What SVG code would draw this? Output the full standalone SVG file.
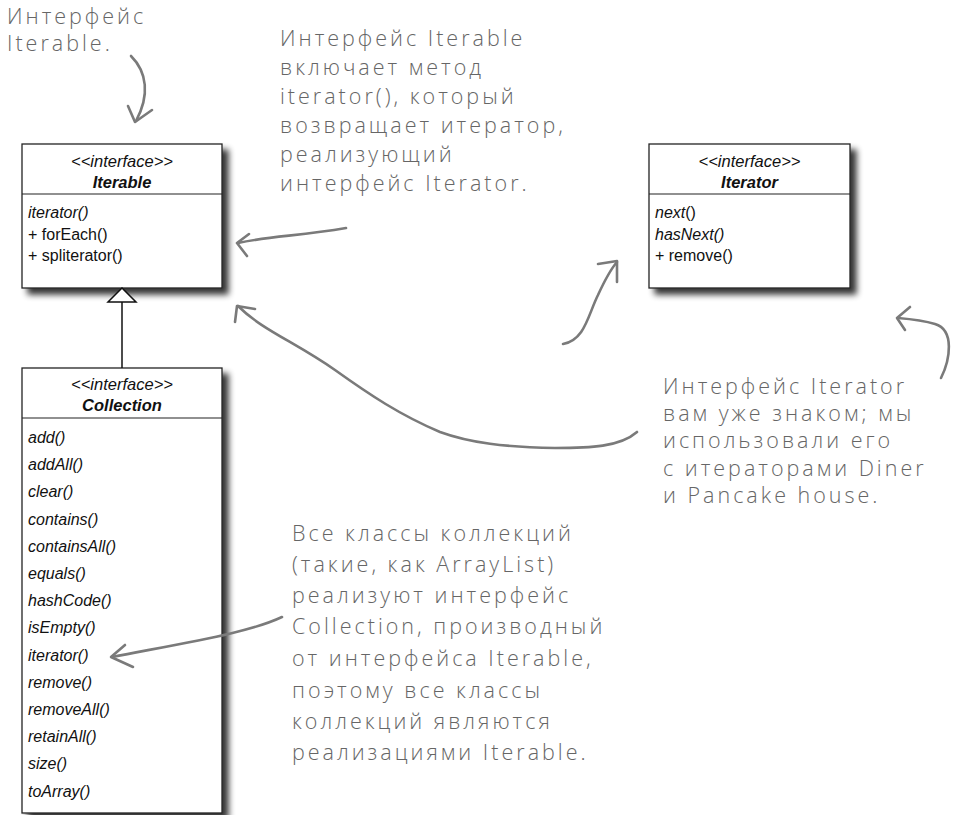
<svg xmlns="http://www.w3.org/2000/svg" width="955" height="815" viewBox="0 0 955 815">
<defs>
<filter id="sh" x="-10%" y="-10%" width="130%" height="130%">
<feGaussianBlur in="SourceAlpha" stdDeviation="3"/>
<feOffset dx="6" dy="6"/>
<feComponentTransfer><feFuncA type="linear" slope="0.8"/></feComponentTransfer>
<feMerge><feMergeNode/><feMergeNode in="SourceGraphic"/></feMerge>
</filter>
<style>
.box{fill:#fff;stroke:#222;stroke-width:1.3}
.div{stroke:#222;stroke-width:1.2}
.st{font-family:"Liberation Sans",Arial,sans-serif;font-size:16.5px;font-style:italic;fill:#111;text-anchor:middle}
.nm{font-family:"Liberation Sans",Arial,sans-serif;font-size:16.5px;font-style:italic;font-weight:bold;fill:#111;text-anchor:middle}
.m{font-family:"Liberation Sans",Arial,sans-serif;font-size:16px;fill:#111}
.mi{font-family:"Liberation Sans",Arial,sans-serif;font-size:16px;font-style:italic;fill:#111}
.up{font-style:normal}
.hw{font-family:"Open Sans","Noto Sans",sans-serif;font-size:21.5px;font-weight:300;fill:#666;letter-spacing:3px}
.ar{fill:none;stroke:#7a7a7a;stroke-width:2.6;stroke-linecap:round;stroke-linejoin:round}
.gen{fill:none;stroke:#111;stroke-width:1.5}
.tri{fill:#fff;stroke:#111;stroke-width:1.5}
</style>
</defs>
<rect width="955" height="815" fill="#fff"/>

<g id="iterable">
<rect class="box" x="22" y="144" width="200" height="144" filter="url(#sh)"/>
<line class="div" x1="22" y1="194" x2="222" y2="194"/>
<text class="st" x="122" y="167">&lt;&lt;interface&gt;&gt;</text>
<text class="nm" x="122" y="188">Iterable</text>
<text class="mi" x="28" y="218">iterator()</text>
<text class="m" x="28" y="240">+ forEach()</text>
<text class="m" x="28" y="261">+ spliterator()</text>
</g>

<g id="iterator">
<rect class="box" x="649" y="144" width="201" height="144" filter="url(#sh)"/>
<line class="div" x1="649" y1="194" x2="850" y2="194"/>
<text class="st" x="749.5" y="167">&lt;&lt;interface&gt;&gt;</text>
<text class="nm" x="749.5" y="188">Iterator</text>
<text class="mi" x="655" y="218">next<tspan class="up">()</tspan></text>
<text class="mi" x="655" y="240">hasNext()</text>
<text class="m" x="655" y="261">+ remove()</text>
</g>

<g id="collection">
<rect class="box" x="22" y="368" width="200" height="445" filter="url(#sh)"/>
<line class="div" x1="22" y1="418" x2="222" y2="418"/>
<text class="st" x="122" y="390">&lt;&lt;interface&gt;&gt;</text>
<text class="nm" x="122" y="411">Collection</text>
<text class="mi" x="28" y="443">add()</text>
<text class="mi" x="28" y="470.2">addAll()</text>
<text class="mi" x="28" y="497.4">clear()</text>
<text class="mi" x="28" y="524.6">contains()</text>
<text class="mi" x="28" y="551.8">containsAll()</text>
<text class="mi" x="28" y="579">equals()</text>
<text class="mi" x="28" y="606.2">hashCode()</text>
<text class="mi" x="28" y="633.4">isEmpty()</text>
<text class="mi" x="28" y="660.6">iterator()</text>
<text class="mi" x="28" y="687.8">remove()</text>
<text class="mi" x="28" y="715">removeAll()</text>
<text class="mi" x="28" y="742.2">retainAll()</text>
<text class="mi" x="28" y="769.4">size()</text>
<text class="mi" x="28" y="796.6">toArray()</text>
</g>

<g id="note-iterable">
<text class="hw" x="7" y="24">Интерфейс</text>
<text class="hw" x="7" y="51">Iterable.</text>
</g>

<g id="note-iterator-method">
<text class="hw" x="280" y="46">Интерфейс Iterable</text>
<text class="hw" x="280" y="75">включает метод</text>
<text class="hw" x="280" y="104">iterator(), который</text>
<text class="hw" x="280" y="133">возвращает итератор,</text>
<text class="hw" x="280" y="162">реализующий</text>
<text class="hw" x="280" y="191">интерфейс Iterator.</text>
</g>

<g id="note-iterator">
<text class="hw" x="663" y="394">Интерфейс Iterator</text>
<text class="hw" x="663" y="421">вам уже знаком; мы</text>
<text class="hw" x="663" y="448">использовали его</text>
<text class="hw" x="663" y="476">с итераторами Diner</text>
<text class="hw" x="663" y="503">и Pancake house.</text>
</g>

<g id="note-collection">
<text class="hw" x="292" y="541">Все классы коллекций</text>
<text class="hw" x="292" y="572">(такие, как ArrayList)</text>
<text class="hw" x="292" y="603">реализуют интерфейс</text>
<text class="hw" x="292" y="634">Collection, производный</text>
<text class="hw" x="292" y="666">от интерфейса Iterable,</text>
<text class="hw" x="292" y="698">поэтому все классы</text>
<text class="hw" x="292" y="729">коллекций являются</text>
<text class="hw" x="292" y="760">реализациями Iterable.</text>
</g>

<g id="connectors">
<line class="gen" x1="122" y1="302" x2="122" y2="368"/>
<path class="tri" d="M122,288 L136,302 L108,302 Z"/>
<path class="ar" d="M131,56 C147,72 150,95 136,121"/>
<path class="ar" d="M128,106 L135,122 L152,110"/>
<path class="ar" d="M346,228 C300,236 270,236 238,243"/>
<path class="ar" d="M249,234 L237,243 L247,256"/>
<path class="ar" d="M563,344 C585,340 588,315 598,295 C604,282 610,270 617,262"/>
<path class="ar" d="M598,264 L617,261 L617,282"/>
<path class="ar" d="M637,432 C620,447 590,448 555,448 C505,447 470,443 440,432 C400,415 370,395 335,370 C295,342 262,330 238,306"/>
<path class="ar" d="M255,309 L237,306 L235,322"/>
<path class="ar" d="M941,378 C950,360 955,330 935,324 C922,320 910,319 898,318"/>
<path class="ar" d="M910,307 L897,318 L905,330"/>
<path class="ar" d="M282,617 C250,632 200,640 112,657"/>
<path class="ar" d="M125,645 L111,657 L133,667"/>
</g>
</svg>
